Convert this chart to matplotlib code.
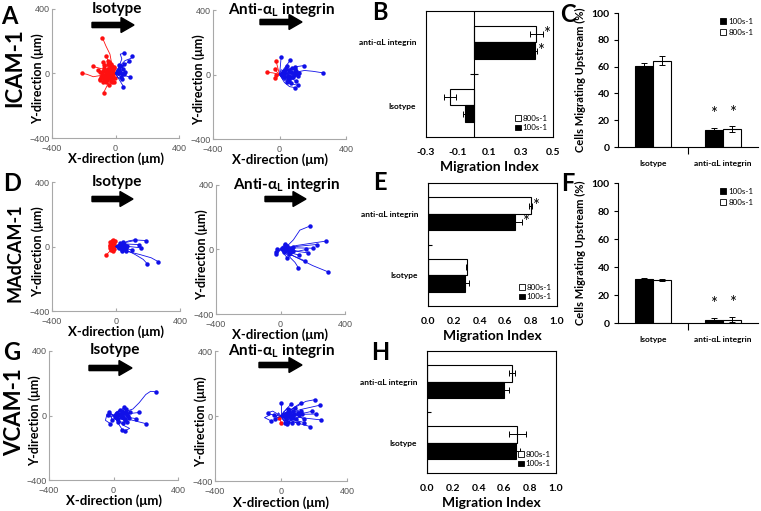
import numpy as np
import matplotlib
matplotlib.use("Agg")
import matplotlib.pyplot as plt
from matplotlib.patches import Patch, Polygon

plt.rcParams['font.family'] = ['Lato', 'DejaVu Sans']
plt.rcParams['mathtext.fontset'] = 'custom'
plt.rcParams['mathtext.bf'] = 'Lato:bold'
plt.rcParams['mathtext.rm'] = 'Lato'

# ---------------- data ----------------
# cell tracks (um), every track starts at the origin; points listed after it
icam_iso_red = [
    [(-20, 40), (-35, 120), (-60, 170), (-83, 223)],
    [(-30, 5), (-80, -10), (-140, -20), (-180, -5), (-214, 2)],
    [(-20, -30), (-50, -70), (-75, -119)],
    [(-40, 20), (-90, 30), (-142, 44)],
    [(-30, 40), (-58, 106)],
    [(-50, -20), (-100, -40)],
    [(-20, 30), (-42, 71)],
    [(-40, -30), (-80, -55)],
    [(-30, 20), (-60, 10)], [(-45, -20)], [(-40, 10), (-70, 35)], [(-30, -45)],
    [(-25, -20), (-55, -40)], [(-25, 25)], [(-65, -15)], [(-35, 50)], [(-15, -30)],
    [(-40, 0), (-80, 15)], [(-50, 60)], [(-20, 10)], [(-60, -5)], [(-45, 30)],
    [(-10, -50)], [(-75, -30)], [(-35, -10)], [(-55, 20)], [(-10, 35)],
    [(-15, 20), (-40, 15)], [(-20, -10), (-50, 5)], [(-30, 30), (-70, 50)],
    [(-25, -35), (-60, -50)], [(-40, -15), (-90, -20)], [(-10, 25), (-30, 60)],
    [(-35, 0), (-85, -5)], [(-20, -40), (-40, -70)], [(-45, 25), (-95, 10)],
    [(-10, -20), (-25, -55)], [(-30, 15), (-20, 45)], [(-50, -10), (-70, -45)],
    [(-25, 5), (-55, -25)], [(-15, -5), (-5, -25)], [(5, 15), (-10, 40)],
    [(-35, 35), (-80, 70)], [(-40, -40), (-95, -35)], [(-20, 45), (-45, 80)],
    [(-60, 0), (-110, 20)], [(-5, -10), (-35, -25)],
]
icam_iso_blue = [
    [(20, 40), (40, 90), (30, 120), (56, 127)],
    [(30, 50), (60, 80), (100, 95), (104, 106)],
    [(40, 40), (87, 77)],
    [(30, 30), (56, 60)],
    [(50, -10), (92, -23)],
    [(25, -40), (50, -81)],
    [(30, 10)], [(40, -5)], [(20, 20)], [(35, -20)], [(15, 5)],
    [(15, 15), (45, 25)], [(20, -10), (55, -5)], [(10, 25), (35, 45)],
    [(25, 0), (60, 10)], [(15, -25), (40, -35)], [(30, 20), (20, 50)],
]
icam_anti_red = [
    [(-40, 10), (-77, 14)],
    [(-10, 40), (-20, 81)],
    [(-15, -10), (-25, -22)],
    [(-20, 20), (-30, 35)],
    [(-10, -5), (-20, -5)],
]
icam_anti_blue = [
    [(5, 50), (10, 109)],
    [(30, 40), (65, 89)],
    [(60, 30), (110, 50), (145, 55)],
    [(80, 10), (150, 25), (200, 20), (263, 10)],
    [(50, 30), (91, 44)],
    [(60, 5), (117, 8)],
    [(50, -40), (80, -60), (111, -67)],
    [(30, -50), (60, -75), (91, -81)],
    [(40, -20), (80, -30), (100, -40)],
    [(20, -30), (45, -45)],
    [(30, 20)], [(50, -10)], [(70, 15)], [(40, 35)], [(85, -5)], [(25, -15)],
    [(60, -25)], [(100, 20)], [(75, 40)], [(20, 5)],
    [(20, 15), (55, 25)], [(30, -10), (70, -15)], [(25, 25), (45, 55)],
    [(40, 0), (90, 10)], [(20, -25), (50, -20)], [(35, 10), (80, -15)],
    [(15, -10), (60, -40)], [(45, 20), (95, 35)], [(10, 30), (30, 15)],
    [(50, -5), (100, 5)], [(30, -30), (70, -50)], [(60, 15), (110, -10)],
]
madcam_iso_red = [
    [(-30, -20), (-60, -52)],
    [(-20, 10), (-40, 12)],
    [(-15, 20), (-23, 33)],
    [(-30, -5)], [(-15, -15)], [(-35, 25)], [(-20, -25)], [(-10, 15)], [(-40, -10)],
    [(-25, 5)], [(-30, 15)],
    [(-10, 10), (-25, 25)], [(-15, -5), (-35, 5)], [(-5, 20), (-20, 40)],
    [(-20, -10), (-30, -20)], [(-10, 0), (-30, 20)], [(-15, 15), (-5, 35)],
]
madcam_iso_blue = [
    [(40, 20), (80, 35), (119, 42)],
    [(60, 25), (130, 40), (190, 37)],
    [(70, 15), (143, 12)],
    [(80, 0), (154, -8)],
    [(50, -10), (98, -21)],
    [(60, -20), (120, -50), (170, -80), (196, -108)],
    [(70, -30), (150, -50), (220, -70), (264, -94)],
    [(30, -15), (60, -29)],
    [(30, 10)], [(45, -5)], [(20, -10)], [(50, 15)], [(35, -20)], [(60, 5)], [(25, 20)],
    [(40, 0)], [(15, 5)],
    [(15, 5), (40, 10)], [(20, -10), (55, -15)], [(25, 10), (50, -5)],
    [(10, -15), (35, -25)], [(30, 0), (65, -10)], [(20, 15), (45, 25)],
    [(35, -5), (70, 5)],
]
madcam_anti_blue = [
    [(40, 20), (80, 60), (120, 120), (186, 147)],
    [(100, 25), (200, 40), (281, 52)],
    [(110, 20), (224, 31)],
    [(100, 10), (200, 8)],
    [(90, -10), (172, -21)],
    [(60, -20), (116, -35)],
    [(20, -25), (41, -50)],
    [(80, -40), (151, -70)],
    [(50, -40), (90, -80), (110, -112)],
    [(100, -50), (200, -100), (296, -139)],
    [(110, -10), (160, 0)],
    [(30, 10)], [(50, -10)], [(20, -15)], [(40, 20)], [(70, 5)], [(60, -20)],
    [(-10, 5), (-20, 0)], [(-15, -20), (-30, -30)], [(25, 35)], [(45, 0)], [(10, 10)],
    [(15, 5), (40, 0)], [(20, -10), (50, -5)], [(10, 10), (35, 20)],
    [(30, 5), (60, -15)], [(25, -20), (55, -25)], [(-10, -10), (-25, -15)],
    [(40, 10), (75, 15)], [(15, 15), (30, -5)], [(35, -5), (80, -10)],
    [(20, 20), (55, 10)],
]
vcam_iso_blue = [
    [(60, 20), (120, 40), (160, 80), (200, 130), (230, 150), (261, 147)],
    [(30, 25), (68, 50)],
    [(80, 10), (161, 19)],
    [(70, -10), (141, -19)],
    [(100, -25), (199, -50)],
    [(30, -50), (54, -87)],
    [(60, -60), (100, -80), (70, -95)],
    [(-40, 10), (-50, -30), (-20, -50)],
    [(40, 10)], [(60, -10)], [(30, -20)], [(80, 25)], [(50, 30)], [(20, 15)],
    [(90, -5)], [(70, -30)], [(-30, 20)], [(45, 0)], [(10, -10)], [(65, 15)],
    [(20, 10), (50, -10)], [(30, -15), (70, -20)], [(15, 20), (40, 35)],
    [(40, 5), (85, 10)], [(-15, -10), (-35, 5)], [(25, -30), (60, -45)],
    [(50, 15), (95, -15)], [(10, -20), (30, -40)], [(35, 25), (75, 40)],
    [(-20, 15), (-10, -25)], [(60, 0), (100, 20)], [(45, -20), (85, -40)],
]
vcam_anti_red = [
    [(-5, -20), (0, -40)],
    [(-10, -15)],
]
vcam_anti_blue = [
    [(0, 40), (0, 81)],
    [(30, 40), (61, 73)],
    [(60, 40), (121, 81)],
    [(80, 50), (150, 90), (208, 101)],
    [(120, 40), (238, 67)],
    [(100, 10), (212, 12)],
    [(120, -10), (242, -24)],
    [(90, -40), (176, -65)],
    [(15, -25), (26, -44)],
    [(-60, 10), (-100, -10), (-60, -30)],
    [(-50, 30), (-80, 20)],
    [(150, 20), (190, 30)],
    [(100, -30), (140, -40)],
    [(40, 20)], [(60, -10)], [(30, -20)], [(80, 10)], [(50, 35)], [(20, 10)],
    [(90, -20)], [(70, 30)], [(110, 5)], [(45, -35)], [(55, 5)], [(35, 0)],
    [(20, 10), (55, 15)], [(30, -15), (75, -10)], [(15, 25), (40, 45)],
    [(45, 5), (100, 20)], [(-20, -10), (-40, 5)], [(25, -30), (65, -40)],
    [(60, 20), (120, 30)], [(10, -20), (35, -50)], [(40, 30), (85, 50)],
    [(-15, 20), (-35, -20)], [(70, -5), (130, 10)], [(50, -25), (100, -45)],
    [(30, 0), (70, 5)], [(80, 15), (140, -20)],
]

# migration index (bars) and cells migrating upstream (%)
categories = ['Isotype', 'anti-\u03b1L integrin']
shear_labels = ['100s-1', '800s-1']

icam_mi_100 = [-0.054, 0.388]
icam_mi_100_err = [0.010, 0.012]
icam_mi_800 = [-0.148, 0.395]
icam_mi_800_err = [0.040, 0.040]

madcam_mi_100 = [0.285, 0.672]
madcam_mi_100_err = [0.030, 0.060]
madcam_mi_800 = [0.300, 0.795]
madcam_mi_800_err = [0.006, 0.012]

vcam_mi_100 = [0.690, 0.597]
vcam_mi_100_err = [0.030, 0.040]
vcam_mi_800 = [0.700, 0.657]
vcam_mi_800_err = [0.065, 0.025]

icam_up_100 = [60.5, 12.5]
icam_up_100_err = [1.9, 2.0]
icam_up_800 = [64.5, 13.3]
icam_up_800_err = [3.6, 2.4]

madcam_up_100 = [31.1, 1.9]
madcam_up_100_err = [1.0, 1.5]
madcam_up_800 = [30.6, 2.4]
madcam_up_800_err = [0.7, 2.0]

# ---------------- figure ----------------
W, H = 761, 511
fig = plt.figure(figsize=(W / 100, H / 100), dpi=100)


def rect(x0, y0, x1, y1):
    return [x0 / W, 1 - y1 / H, (x1 - x0) / W, (y1 - y0) / H]


def ftext(x, y, s, **kw):
    kw.setdefault('ha', 'center')
    kw.setdefault('va', 'center')
    fig.text(x / W, 1 - y / H, s, **kw)


def arrow(x0, x1, y):
    # thick flow arrow, pixel coordinates
    t, hh, hl = 2.6, 7.5, 13
    pts = [(x0, y - t), (x1 - hl, y - t), (x1 - hl, y - hh), (x1, y),
           (x1 - hl, y + hh), (x1 - hl, y + t), (x0, y + t)]
    pts = [(px / W, 1 - py / H) for px, py in pts]
    fig.patches.append(Polygon(pts, closed=True, color='black',
                               transform=fig.transFigure, figure=fig))


def track_panel(box, red, blue):
    ax = fig.add_axes(rect(*box))
    for tracks, col in ((red, '#ff1010'), (blue, '#1010e8')):
        for tr in tracks:
            xs = [0] + [p[0] for p in tr]
            ys = [0] + [p[1] for p in tr]
            ax.plot(xs, ys, color=col, lw=0.6)
            ax.plot(xs[-1], ys[-1], 'o', color=col, ms=3.2, mew=0)
    ax.set_xlim(-400, 400)
    ax.set_ylim(-400, 400)
    ax.set_xticks([-400, 0, 400])
    ax.set_yticks([-400, 0, 400])
    for s in ('top', 'right'):
        ax.spines[s].set_visible(False)
    for s in ('left', 'bottom'):
        ax.spines[s].set_color('#a8a8a8')
        ax.spines[s].set_linewidth(0.8)
    ax.tick_params(direction='in', length=2, color='#a8a8a8', labelsize=6.5,
                   labelcolor='#555555', pad=1.5)
    ax.tick_params(axis='x', pad=4)
    for lab in ax.get_xticklabels() + ax.get_yticklabels():
        lab.set_family('Liberation Sans')
    ax.set_xlabel('X-direction (\u03bcm)', fontsize=9.5, fontweight='bold', va='center')
    ax.set_ylabel('Y-direction (\u03bcm)', fontsize=9, fontweight='bold', va='center')
    ax.xaxis.set_label_coords(0.5, -21 / 129)
    ax.yaxis.set_label_coords(-14 / 128, 0.46)
    return ax


def mi_panel(box, v100, e100, v800, e800, xlim, xticks, stars):
    ax = fig.add_axes(rect(*box))
    y = np.arange(len(categories))
    h = 0.265
    ekw = dict(ecolor='black', lw=0.7, capsize=2, capthick=0.7)
    ax.barh(y + h / 2, v800, h, xerr=e800, color='white', edgecolor='black',
            lw=0.8, error_kw=ekw)
    ax.barh(y - h / 2, v100, h, xerr=e100, color='black', edgecolor='black',
            lw=0.8, error_kw=ekw)
    ax.set_ylim(-0.5, 1.5)
    ax.set_xlim(*xlim)
    ax.set_xticks(xticks)
    ax.set_xticklabels([f'{t:.1f}' for t in xticks], fontweight='bold')
    ax.set_yticks(y)
    ax.set_yticklabels(categories, fontweight='bold', fontsize=6)
    ax.tick_params(axis='y', length=0, pad=7)
    ax.tick_params(axis='x', length=0, pad=8, labelsize=7.5)
    ax.axvline(0, color='black', lw=0.8)
    ax.plot(0, 0.5, marker='_', ms=6, mew=0.8, color='black')
    for s in ax.spines.values():
        s.set_linewidth(0.8)
    ax.set_xlabel('Migration Index', fontsize=10, fontweight='bold', labelpad=3)
    if stars:
        for yy, v, e in ((y[1] + h / 2, v800[1], e800[1]), (y[1] - h / 2, v100[1], e100[1])):
            ax.text(v + e, yy, '*', fontsize=12, ha='left', va='center')
    handles = [Patch(facecolor='white', edgecolor='black', lw=0.6, label=shear_labels[1]),
               Patch(facecolor='black', edgecolor='black', lw=0.6, label=shear_labels[0])]
    ax.legend(handles=handles, loc='lower right', fontsize=5.8, frameon=False,
              handlelength=0.7, handleheight=0.7, handletextpad=0.2,
              labelspacing=0.35, borderaxespad=0.3)
    return ax


def up_panel(box, v100, e100, v800, e800):
    ax = fig.add_axes(rect(*box))
    x = np.arange(len(categories))
    w = 0.26
    ekw = dict(ecolor='black', lw=0.7, capsize=2.5, capthick=0.7)
    ax.bar(x - w / 2, v100, w, yerr=e100, color='black', edgecolor='black',
           lw=0.8, error_kw=ekw, label=shear_labels[0])
    ax.bar(x + w / 2, v800, w, yerr=e800, color='white', edgecolor='black',
           lw=0.8, error_kw=ekw, label=shear_labels[1])
    ax.set_xlim(-0.5, 1.5)
    ax.set_ylim(0, 100)
    ax.set_yticks(np.arange(0, 101, 20))
    ax.set_yticklabels([str(t) for t in range(0, 101, 20)], fontweight='bold')
    ax.set_xticks(x)
    ax.set_xticklabels(categories, fontweight='bold', fontsize=6)
    ax.set_xticks([0.5], minor=True)
    ax.tick_params(axis='x', which='major', length=0, pad=9)
    ax.tick_params(axis='x', which='minor', length=5, width=0.8, direction='out')
    ax.tick_params(axis='y', length=3, width=0.8, labelsize=7.5, pad=3)
    for s in ('top', 'right'):
        ax.spines[s].set_visible(False)
    for s in ('left', 'bottom'):
        ax.spines[s].set_linewidth(0.8)
    ax.set_ylabel('Cells Migrating Upstream (%)', fontsize=8, fontweight='bold', labelpad=4)
    for xx, v, e in ((x[1] - w / 2, v100[1], e100[1]), (x[1] + w / 2, v800[1], e800[1])):
        ax.text(xx, v + e + 10, '*', fontsize=12, ha='center', va='center')
    handles = [Patch(facecolor='black', edgecolor='black', lw=0.6, label=shear_labels[0]),
               Patch(facecolor='white', edgecolor='black', lw=0.6, label=shear_labels[1])]
    ax.legend(handles=handles, loc='upper right', fontsize=5.8, frameon=False,
              handlelength=0.7, handleheight=0.7, handletextpad=0.3,
              labelspacing=0.5, borderaxespad=0.2)
    return ax


# track panels
track_panel((52, 9, 179, 138), icam_iso_red, icam_iso_blue)
track_panel((213, 10, 346, 139), icam_anti_red, icam_anti_blue)
track_panel((52, 182, 180, 311), madcam_iso_red, madcam_iso_blue)
track_panel((216, 185, 345, 314), [], madcam_anti_blue)
track_panel((49, 351, 178, 480), [], vcam_iso_blue)
track_panel((215, 351, 347, 481), vcam_anti_red, vcam_anti_blue)

anti_title = 'Anti-\u03b1$_\\mathbf{L}$ integrin'
for x, y, s in ((117, 9, 'Isotype'), (282, 10, anti_title),
                (117, 182, 'Isotype'), (287, 185, anti_title),
                (115, 350, 'Isotype'), (282, 351, anti_title)):
    ftext(x, y, s, fontsize=11, fontweight='bold')
arrow(92, 134, 25)
arrow(260, 302, 22)
arrow(92, 133, 199)
arrow(265, 306, 199)
arrow(89, 132, 368)
arrow(259, 302, 365)

# bar panels
mi_panel((426, 11, 553, 137), icam_mi_100, icam_mi_100_err, icam_mi_800, icam_mi_800_err,
         (-0.3, 0.5), [-0.3, -0.1, 0.1, 0.3, 0.5], True)
mi_panel((428, 183, 557, 306), madcam_mi_100, madcam_mi_100_err, madcam_mi_800, madcam_mi_800_err,
         (0, 1.0), [0.0, 0.2, 0.4, 0.6, 0.8, 1.0], True)
mi_panel((427, 351, 556, 473), vcam_mi_100, vcam_mi_100_err, vcam_mi_800, vcam_mi_800_err,
         (0, 1.0), [0.0, 0.2, 0.4, 0.6, 0.8, 1.0], False)
up_panel((618, 13, 758, 147), icam_up_100, icam_up_100_err, icam_up_800, icam_up_800_err)
up_panel((618, 183, 758, 323), madcam_up_100, madcam_up_100_err, madcam_up_800, madcam_up_800_err)

# panel letters and row labels
for x, y, s in ((9, 17, 'A'), (380, 12, 'B'), (568, 14, 'C'),
                (12, 183, 'D'), (380, 182, 'E'), (568, 183, 'F'),
                (12, 352, 'G'), (380, 352, 'H')):
    ftext(x, y, s, fontsize=17, fontweight='bold')
for y, s, fs in ((68, 'ICAM-1', 16), (253, 'MAdCAM-1', 13), (412, 'VCAM-1', 16)):
    ftext(15, y, s, fontsize=fs, fontweight='bold', rotation=90)

fig.savefig('out.png', dpi=100)
